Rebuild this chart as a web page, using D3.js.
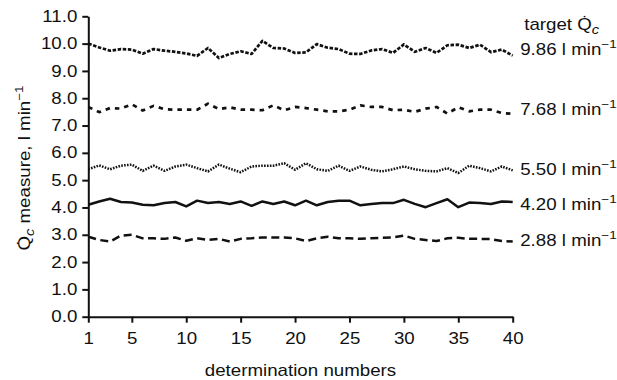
<!DOCTYPE html>
<html>
<head>
<meta charset="utf-8">
<script src="https://cdn.jsdelivr.net/npm/d3@7/dist/d3.min.js"></script>
<style>
  body { margin: 0; background: #fff; }
  text { font-family: "Liberation Sans", Arial, sans-serif; fill: #111; }
</style>
</head>
<body>
<svg class="chart" width="617" height="380"></svg>
<script>
// determination numbers 1..40
const determinations = d3.range(1, 41);
const xTicks = [1, 5, 10, 15, 20, 25, 30, 35, 40];
const yTicks = [0, 1, 2, 3, 4, 5, 6, 7, 8, 9, 10, 11];

const targets = [9.86, 7.68, 5.50, 4.20, 2.88];

const measured986 = [10.0, 9.86, 9.74, 9.8, 9.78, 9.63, 9.8, 9.74, 9.7, 9.64,
  9.55, 9.84, 9.47, 9.62, 9.72, 9.62, 10.1, 9.84, 9.82, 9.66,
  9.68, 9.98, 9.85, 9.8, 9.63, 9.62, 9.75, 9.8, 9.66, 9.97,
  9.7, 9.84, 9.66, 9.94, 9.96, 9.84, 9.96, 9.69, 9.78, 9.56];
const measured768 = [7.68, 7.49, 7.64, 7.62, 7.78, 7.55, 7.72, 7.6, 7.58, 7.58,
  7.58, 7.8, 7.6, 7.67, 7.58, 7.58, 7.56, 7.74, 7.56, 7.68,
  7.64, 7.58, 7.52, 7.52, 7.58, 7.74, 7.68, 7.68, 7.56, 7.58,
  7.5, 7.62, 7.68, 7.44, 7.67, 7.52, 7.58, 7.58, 7.46, 7.43];
const measured550 = [5.4, 5.54, 5.4, 5.53, 5.57, 5.34, 5.53, 5.34, 5.5, 5.57,
  5.44, 5.32, 5.57, 5.42, 5.29, 5.5, 5.53, 5.53, 5.62, 5.38,
  5.62, 5.4, 5.34, 5.53, 5.34, 5.5, 5.38, 5.32, 5.4, 5.5,
  5.4, 5.34, 5.32, 5.44, 5.26, 5.53, 5.44, 5.32, 5.5, 5.36];
const measured420 = [4.1, 4.22, 4.32, 4.2, 4.18, 4.1, 4.08, 4.16, 4.2, 4.04,
  4.25, 4.16, 4.2, 4.13, 4.22, 4.06, 4.22, 4.13, 4.22, 4.08,
  4.25, 4.08, 4.2, 4.25, 4.25, 4.08, 4.13, 4.16, 4.16, 4.28,
  4.13, 4.01, 4.16, 4.3, 4.01, 4.18, 4.16, 4.13, 4.22, 4.2];
const measured288 = [2.93, 2.81, 2.75, 2.97, 3.0, 2.87, 2.87, 2.85, 2.9, 2.78,
  2.87, 2.81, 2.85, 2.75, 2.85, 2.87, 2.9, 2.9, 2.9, 2.87,
  2.77, 2.87, 2.93, 2.87, 2.87, 2.85, 2.87, 2.89, 2.9, 2.97,
  2.85, 2.81, 2.77, 2.87, 2.89, 2.85, 2.85, 2.84, 2.77, 2.75];

const seriesList = [
  { target: targets[0], values: measured986, dash: "3.5,1.6", width: 2.7 },
  { target: targets[1], values: measured768, dash: "4.5,5", width: 2.7 },
  { target: targets[2], values: measured550, dash: "1.6,1.3", width: 2.5 },
  { target: targets[3], values: measured420, dash: null, width: 2.5 },
  { target: targets[4], values: measured288, dash: "8,4.5", width: 2.5 }
];

let width = 617;
let height = 380;
let margin = ({top: 16.3, right: 104.3, bottom: 63.3, left: 88.3});
let fontSize = 16;
let sx = 1.17; // reference type is a bit wider than Liberation Sans

let svg = d3.select(".chart");

let x = d3.scaleLinear()
  .domain([1, 40])
  .range([margin.left, width - margin.right]);

let y = d3.scaleLinear()
  .domain([0, 11])
  .range([height - margin.bottom, margin.top]);

let xAxis = g => g
  .attr("transform", `translate(0,${height - margin.bottom})`)
  .call(d3.axisBottom(x).tickValues(xTicks).tickSize(6).tickSizeOuter(0).tickPadding(10))
  .call(g => g.selectAll("text")
    .attr("font-size", fontSize).attr("font-family", null)
    .attr("transform", `scale(${sx},1)`));

let yAxis = g => g
  .attr("transform", `translate(${margin.left},0)`)
  .call(d3.axisLeft(y).tickValues(yTicks).tickFormat(d3.format(".1f")).tickSize(6).tickSizeOuter(0))
  .call(g => g.selectAll("text")
    .attr("font-size", fontSize).attr("font-family", null)
    .attr("x", -11 / sx)
    .attr("transform", `scale(${sx},1)`));

svg.append("g").call(xAxis);
svg.append("g").call(yAxis);

svg.selectAll(".domain, .tick line")
  .attr("stroke", "#111")
  .attr("stroke-width", 2);

let line = d3.line()
  .x((d, i) => x(determinations[i]))
  .y(d => y(d));

svg.append("g")
  .selectAll("path")
  .data(seriesList)
  .join("path")
  .attr("fill", "none")
  .attr("stroke", "#111")
  .attr("stroke-width", d => d.width)
  .attr("stroke-dasharray", d => d.dash)
  .attr("stroke-linejoin", "round")
  .attr("d", d => line(d.values));

// labels on the right
let labels = svg.append("g")
  .attr("font-size", fontSize)
  .selectAll("text")
  .data(seriesList)
  .join("text")
  .attr("transform", d => `translate(${x(40) + 7.5},${y(d.target) + 8}) scale(${sx},1)`)
  .text(d => d3.format(".2f")(d.target) + " l min");
labels.append("tspan")
  .attr("font-size", 11.5)
  .attr("dy", -7)
  .text("\u22121");

let head = svg.append("text")
  .attr("transform", `translate(${x(40) + 11.5},29.5) scale(${sx},1)`)
  .attr("font-size", fontSize)
  .text("target Q\u0307");
head.append("tspan")
  .attr("font-size", 12.5)
  .attr("font-style", "italic")
  .attr("dy", 4)
  .text("c");

// axis titles
svg.append("text")
  .attr("transform", `translate(${(margin.left + x(40)) / 2},376) scale(${sx},1)`)
  .attr("text-anchor", "middle")
  .attr("font-size", fontSize)
  .text("determination numbers");

let ylab = svg.append("text")
  .attr("transform", `translate(30,168) rotate(-90) scale(${sx},1)`)
  .attr("text-anchor", "middle")
  .attr("font-size", fontSize)
  .text("Q\u0307");
ylab.append("tspan")
  .attr("font-size", 12.5)
  .attr("font-style", "italic")
  .attr("dy", 4)
  .text("c");
ylab.append("tspan")
  .attr("dy", -4)
  .text(" measure, l min");
ylab.append("tspan")
  .attr("font-size", 11.5)
  .attr("dy", -7)
  .text("\u22121");
</script>
</body>
</html>
